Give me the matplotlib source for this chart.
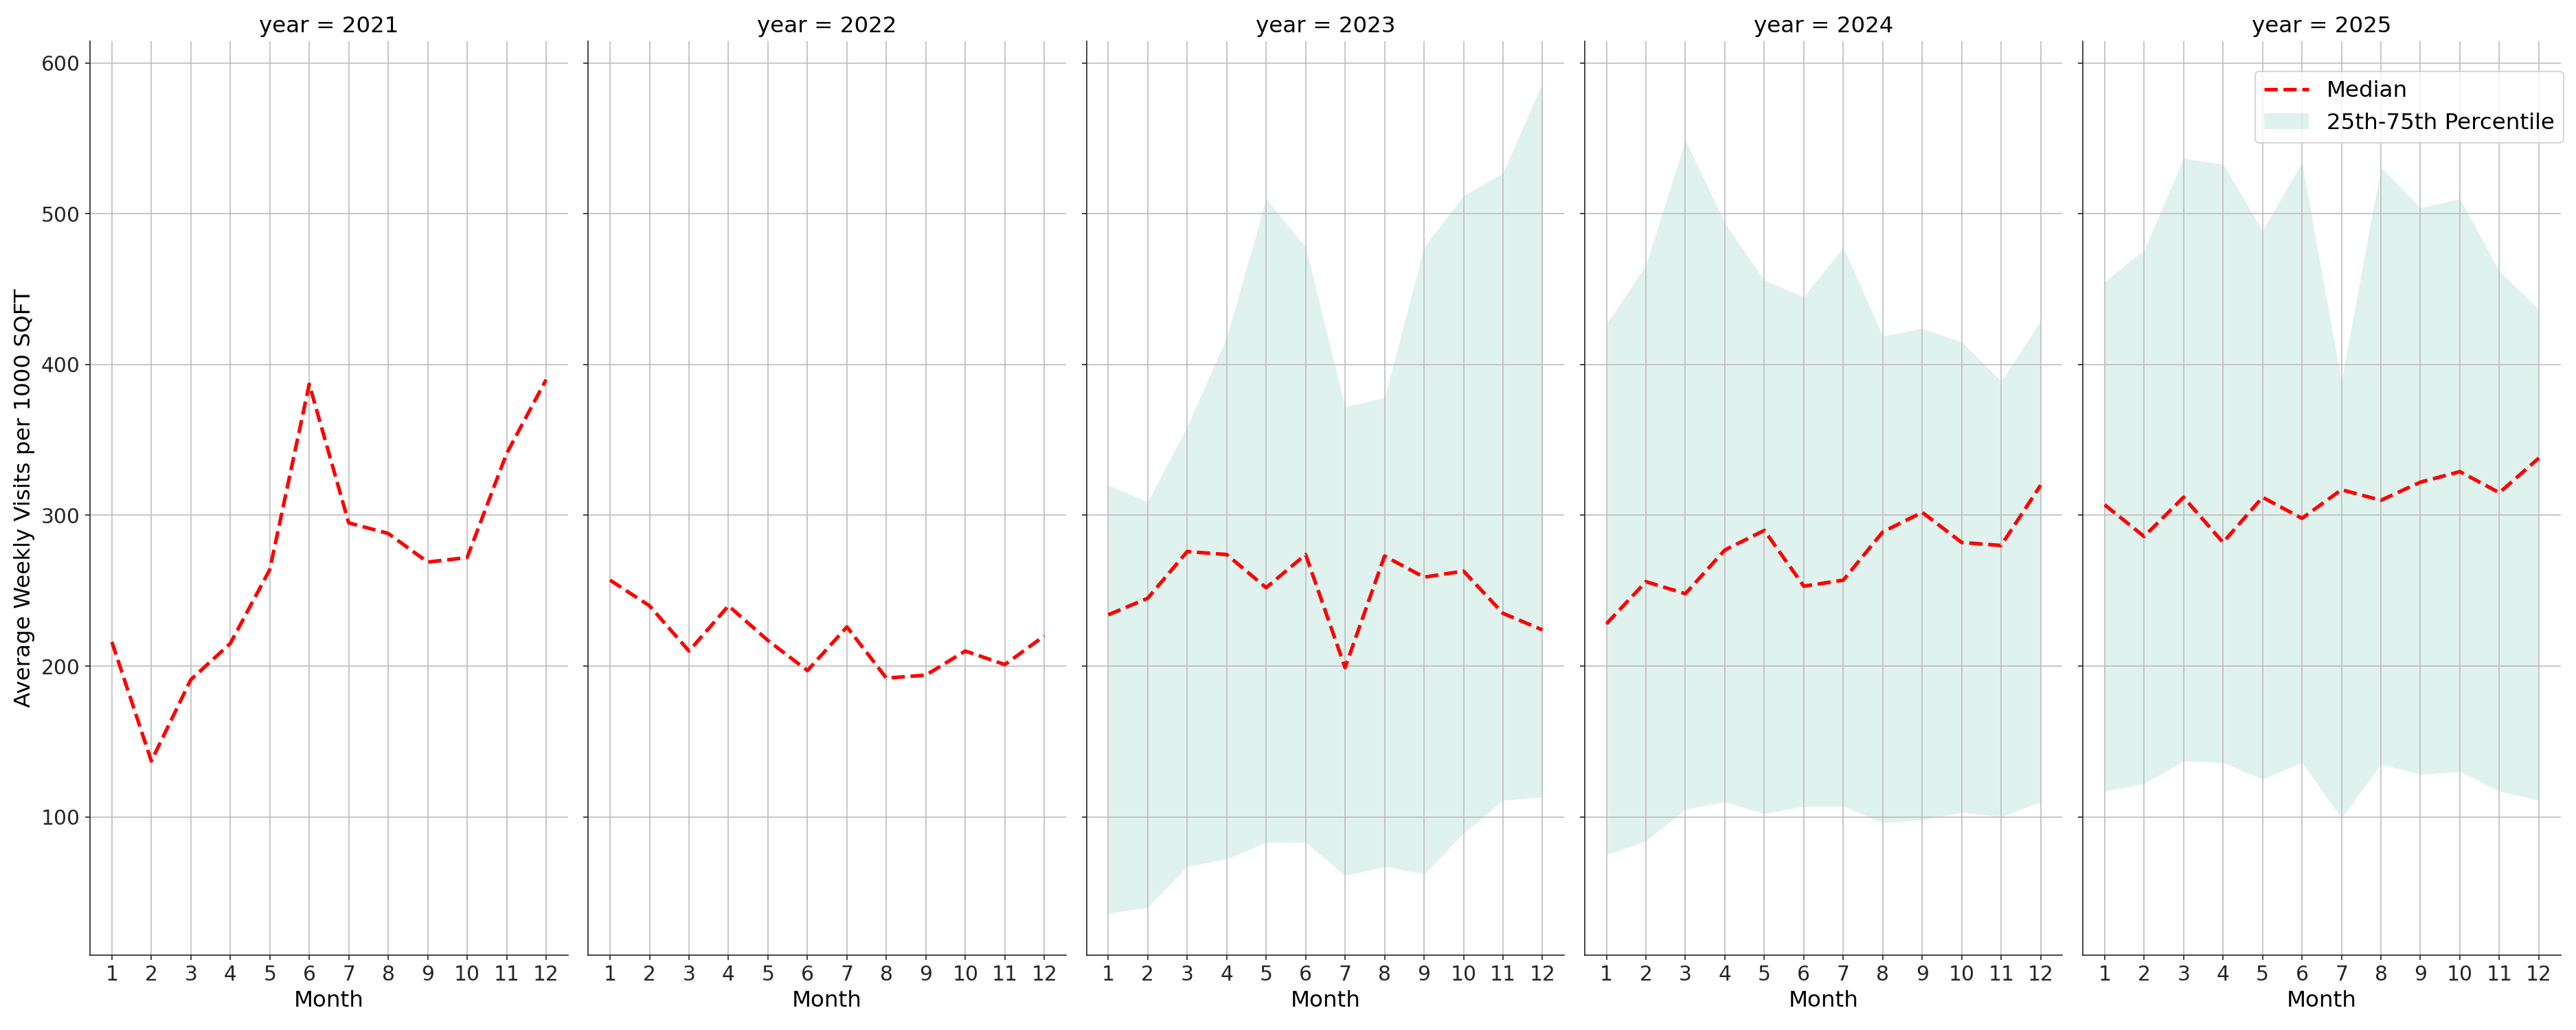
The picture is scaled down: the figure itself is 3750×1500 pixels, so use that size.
import matplotlib
matplotlib.use("Agg")
import matplotlib.pyplot as plt

# values
months = list(range(1, 13))
years = [2021, 2022, 2023, 2024, 2025]

median_2021 = [216, 137, 191, 215, 264, 387, 295, 288, 269, 272, 341, 390]
median_2022 = [257, 240, 210, 240, 217, 197, 226, 192, 194, 210, 201, 220]
median_2023 = [234, 245, 276, 274, 252, 274, 199, 273, 259, 263, 235, 224]
median_2024 = [228, 256, 248, 277, 290, 253, 257, 289, 302, 282, 280, 320]
median_2025 = [307, 286, 312, 282, 312, 298, 317, 310, 322, 329, 315, 338]

p25_2023 = [36, 40, 67, 72, 83, 83, 61, 67, 62, 89, 111, 113]
p75_2023 = [320, 309, 359, 418, 510, 478, 372, 378, 478, 512, 527, 587]
p25_2024 = [75, 84, 105, 110, 102, 107, 107, 96, 98, 103, 100, 110]
p75_2024 = [427, 466, 549, 494, 456, 445, 478, 419, 424, 415, 389, 429]
p25_2025 = [117, 122, 137, 136, 125, 136, 99, 135, 128, 130, 117, 111]
p75_2025 = [455, 476, 537, 533, 489, 534, 389, 531, 504, 510, 462, 437]

medians = [median_2021, median_2022, median_2023, median_2024, median_2025]
lows = [None, None, p25_2023, p25_2024, p25_2025]
highs = [None, None, p75_2023, p75_2024, p75_2025]

plt.rcParams['axes.edgecolor'] = '#262626'
plt.rcParams['xtick.color'] = '#262626'
plt.rcParams['ytick.color'] = '#262626'

fig, axes = plt.subplots(1, 5, figsize=(25, 10), sharey=True)

for i, ax in enumerate(axes):
    ax.plot(months, medians[i], color='red', linestyle='--', linewidth=2.5, label='Median')
    if lows[i] is not None:
        ax.fill_between(months, lows[i], highs[i], color='#66c2a5', alpha=0.2,
                        linewidth=0, label='25th-75th Percentile')
    ax.set_title('year = ' + str(years[i]), fontsize=15.6)
    ax.set_xlabel('Month', fontsize=15.6)
    ax.set_xticks(months)
    ax.tick_params(axis='both', labelsize=14.3)
    ax.grid(True, color='#bdbdbd', linewidth=0.8)
    ax.spines['top'].set_visible(False)
    ax.spines['right'].set_visible(False)

axes[0].set_ylabel('Average Weekly Visits per 1000 SQFT', fontsize=15.6)
axes[-1].legend(loc='upper right', bbox_to_anchor=(1.006, 0.967), borderaxespad=0,
                fontsize=15.6)

plt.subplots_adjust(left=0.035, right=0.994, bottom=0.073, top=0.96, wspace=0.043)
plt.savefig('out.png', dpi=150)
